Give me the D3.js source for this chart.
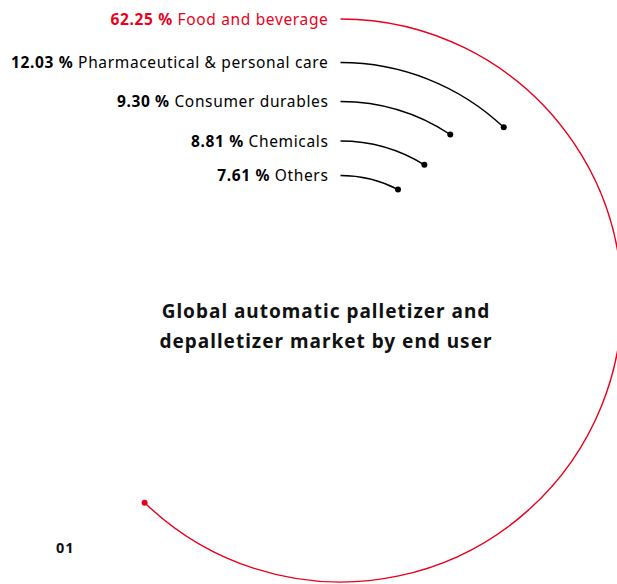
<!DOCTYPE html>
<html>
<head>
<meta charset="utf-8">
<script src="https://cdn.jsdelivr.net/npm/d3@7"></script>
<style>
  html, body { margin: 0; padding: 0; background: #fff; }
  svg { display: block; }
</style>
</head>
<body>
<svg id="chart" width="617" height="584"></svg>
<script>
const categories = ["Food and beverage", "Pharmaceutical & personal care", "Consumer durables", "Chemicals", "Others"];
const values = [62.25, 12.03, 9.30, 8.81, 7.61];
const valueLabels = ["62.25 %", "12.03 %", "9.30 %", "8.81 %", "7.61 %"];
const titleLines = ["Global automatic palletizer and", "depalletizer market by end user"];
const pageNumber = "01";

const W = 617, H = 584;
const cx = 340.5, cy = 300.5;
const RED = "#e8001c", BLACK = "#000000";
const font = "'Noto Sans', 'Open Sans', sans-serif";

const svg = d3.select("#chart");
const g = svg.append("g").attr("transform", `translate(${cx},${cy})`);

const angle = d3.scaleLinear().domain([0, 100]).range([0, 2 * Math.PI]);
const radius = d3.scaleOrdinal().domain(categories).range([281.5, 238, 199, 159.5, 125]);
const color = d3.scaleOrdinal().domain(categories).range([RED, BLACK, BLACK, BLACK, BLACK]);

const data = categories.map((c, i) => ({ cat: c, value: values[i], label: valueLabels[i] }));

// arcs
g.selectAll("path.arc").data(data).join("path")
  .attr("class", "arc")
  .attr("fill", "none")
  .attr("stroke", d => color(d.cat))
  .attr("stroke-width", 1.4)
  .attr("d", d => {
    const p = d3.path();
    const r = radius(d.cat);
    const a0 = -Math.PI / 2, a1 = -Math.PI / 2 + angle(d.value);
    p.moveTo(0, -r);
    p.arc(0, 0, r, a0, a1, false);
    return p.toString();
  });

// end dots
g.selectAll("circle.dot").data(data).join("circle")
  .attr("class", "dot")
  .attr("r", 3)
  .attr("fill", d => color(d.cat))
  .attr("cx", d => radius(d.cat) * Math.sin(angle(d.value)))
  .attr("cy", d => -radius(d.cat) * Math.cos(angle(d.value)));

// labels
const labels = g.selectAll("text.lbl").data(data).join("text")
  .attr("class", "lbl")
  .attr("x", -12)
  .attr("y", d => -radius(d.cat) + 5.5)
  .attr("text-anchor", "end")
  .attr("font-family", font)
  .attr("font-size", 15.5)
  .attr("letter-spacing", 0.65)
  .attr("fill", d => color(d.cat));
labels.append("tspan").attr("font-weight", "bold").text(d => d.label + " ");
labels.append("tspan").text(d => d.cat);

// title
svg.append("text")
  .attr("x", 326)
  .attr("y", 318)
  .attr("text-anchor", "middle")
  .attr("font-family", font)
  .attr("font-size", 19)
  .attr("font-weight", "bold")
  .attr("letter-spacing", 1)
  .attr("fill", "#111")
  .selectAll("tspan").data(titleLines).join("tspan")
  .attr("x", 326)
  .attr("dy", (d, i) => i === 0 ? 0 : 30)
  .text(d => d);

// page number
svg.append("text")
  .attr("x", 56)
  .attr("y", 553)
  .attr("font-family", font)
  .attr("font-size", 14.5)
  .attr("font-weight", "bold")
  .attr("letter-spacing", 1)
  .attr("fill", "#111")
  .text(pageNumber);
</script>
</body>
</html>
